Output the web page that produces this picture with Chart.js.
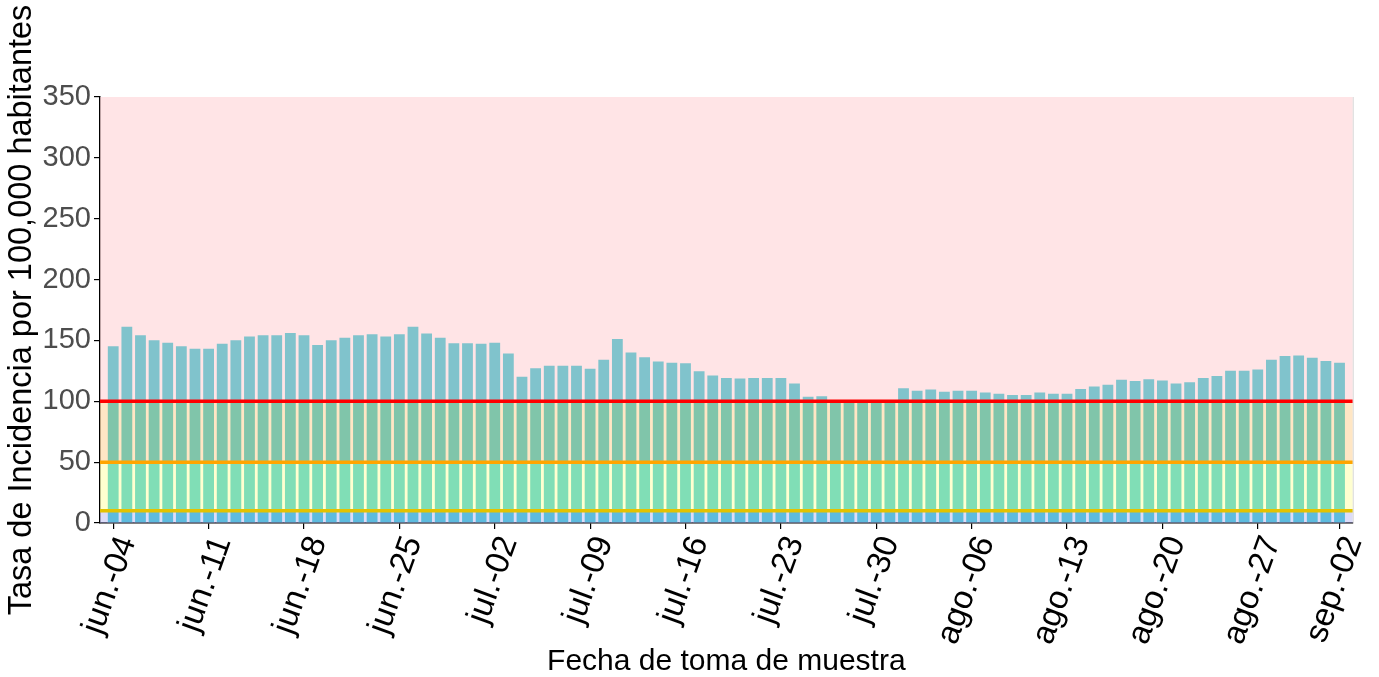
<!DOCTYPE html>
<html>
<head>
<meta charset="utf-8">
<script src="https://cdn.jsdelivr.net/npm/chart.js@4.4.1/dist/chart.umd.min.js"></script>
<style>
  html, body { margin: 0; padding: 0; background: #fff; }
  #wrap { width: 1379px; height: 677px; }
</style>
</head>
<body>
<div id="wrap"><canvas id="incidencia" width="1379" height="677"></canvas></div>
<script>
// Datos: tasa diaria de incidencia, del 4 de junio al 2 de septiembre
const tasa = [
  146, 162, 155, 151, 149, 146, 144, 144, 148, 151,
  154, 155, 155, 157, 155, 147, 151, 153, 155, 156,
  154, 156, 162, 156.5, 153, 148.5, 148.5, 148, 149, 140,
  121, 128, 130, 130, 130, 127.5, 135, 152, 141, 137,
  133.5, 132.5, 132, 125.5, 122, 120, 119.5, 120, 120, 120,
  115.5, 104.5, 105, 99.5, 99.5, 99.5, 99.5, 101.5, 111.5, 109.5,
  110.5, 108.7, 109.5, 109.5, 108, 107, 106, 106, 108, 107,
  107, 111, 113, 114.5, 118.5, 117.5, 119, 118, 115.5, 116.5,
  120, 121.5, 126, 126, 127, 135, 138, 138.5, 136.5, 134,
  132.5
];

// Etiquetas del eje x (cada 7 días + el último)
const tickIdx = [0, 7, 14, 21, 28, 35, 42, 49, 56, 63, 70, 77, 84, 90];
const tickLabels = [
  'jun.-04', 'jun.-11', 'jun.-18', 'jun.-25', 'jul.-02', 'jul.-09', 'jul.-16',
  'jul.-23', 'jul.-30', 'ago.-06', 'ago.-13', 'ago.-20', 'ago.-27', 'sep.-02'
];

// Umbrales (líneas horizontales) y franjas de riesgo
const umbrales = [10, 50, 100];
const umbralColores = ['#e3c200', '#ffa500', '#ff0000'];
const franjas = [[0, 10], [10, 50], [50, 100], [100, 350]];
const franjaColores = [
  'rgba(185,185,241,0.5)',
  'rgba(255,255,161,0.5)',
  'rgba(255,205,137,0.5)',
  'rgba(255,201,205,0.5)'
];

const FONT = "'Liberation Sans', Arial, sans-serif";

// Franjas encima de las barras (semitransparentes) y luego las líneas
const franjasPlugin = {
  id: 'franjas',
  afterDatasetsDraw(chart) {
    const { ctx, chartArea: a, scales: { y } } = chart;
    ctx.save();
    franjas.forEach((f, i) => {
      const top = y.getPixelForValue(f[1]);
      const bot = y.getPixelForValue(f[0]);
      ctx.fillStyle = franjaColores[i];
      ctx.fillRect(a.left, top, a.right - a.left, bot - top);
    });
    umbrales.forEach((u, i) => {
      const py = y.getPixelForValue(u);
      ctx.strokeStyle = umbralColores[i];
      ctx.lineWidth = 3.5;
      ctx.beginPath();
      ctx.moveTo(a.left, py);
      ctx.lineTo(a.right, py);
      ctx.stroke();
    });
    // borde derecho gris claro
    ctx.strokeStyle = '#d8d8d8';
    ctx.lineWidth = 1;
    ctx.beginPath();
    ctx.moveTo(a.right + 0.5, a.top);
    ctx.lineTo(a.right + 0.5, a.bottom);
    ctx.stroke();
    ctx.restore();
  }
};

const ctx = document.getElementById('incidencia').getContext('2d');
new Chart(ctx, {
  type: 'bar',
  data: {
    datasets: [{
      data: tasa.map((v, i) => ({ x: i, y: v })),
      backgroundColor: 'rgb(0,189,203)',
      borderColor: 'rgba(255,255,255,0.55)',
      borderWidth: 1,
      barPercentage: 0.94,
      categoryPercentage: 1
    }]
  },
  options: {
    responsive: false,
    animation: false,
    layout: { padding: { top: 97, right: 25, left: 0, bottom: 0 } },
    plugins: { legend: { display: false }, tooltip: { enabled: false } },
    scales: {
      x: {
        type: 'linear',
        min: -0.97,
        max: 90.97,
        offset: false,
        afterBuildTicks: (axis) => { axis.ticks = tickIdx.map(v => ({ value: v })); },
        afterFit: (s) => { s.height = 154; },
        border: { display: true, color: '#000', width: 1.5 },
        grid: { display: true, offset: false, drawOnChartArea: false, drawTicks: true, tickLength: 6, color: '#000', lineWidth: 1.2 },
        ticks: {
          autoSkip: false,
          minRotation: 70,
          maxRotation: 70,
          labelOffset: 14,
          padding: 2,
          color: '#000',
          font: { family: FONT, size: 33 },
          callback: (v) => {
            const k = tickIdx.indexOf(v);
            return k >= 0 ? tickLabels[k] : null;
          }
        },
        title: {
          display: true,
          text: 'Fecha de toma de muestra',
          color: '#000',
          font: { family: FONT, size: 30, lineHeight: 1.0 },
          padding: { top: 0, bottom: 0 }
        }
      },
      y: {
        min: 0,
        max: 350,
        afterFit: (s) => { s.width = 100; },
        border: { display: true, color: '#000', width: 1.5 },
        grid: { display: true, drawOnChartArea: false, drawTicks: true, tickLength: 6, color: '#000', lineWidth: 1.2 },
        ticks: {
          stepSize: 50,
          padding: 3,
          color: '#4d4d4d',
          font: { family: FONT, size: 29 }
        },
        title: {
          display: true,
          text: 'Tasa de Incidencia por 100,000 habitantes',
          color: '#000',
          font: { family: FONT, size: 32.5 },
          padding: { top: 3, bottom: 0 }
        }
      }
    }
  },
  plugins: [franjasPlugin]
});
</script>
</body>
</html>
